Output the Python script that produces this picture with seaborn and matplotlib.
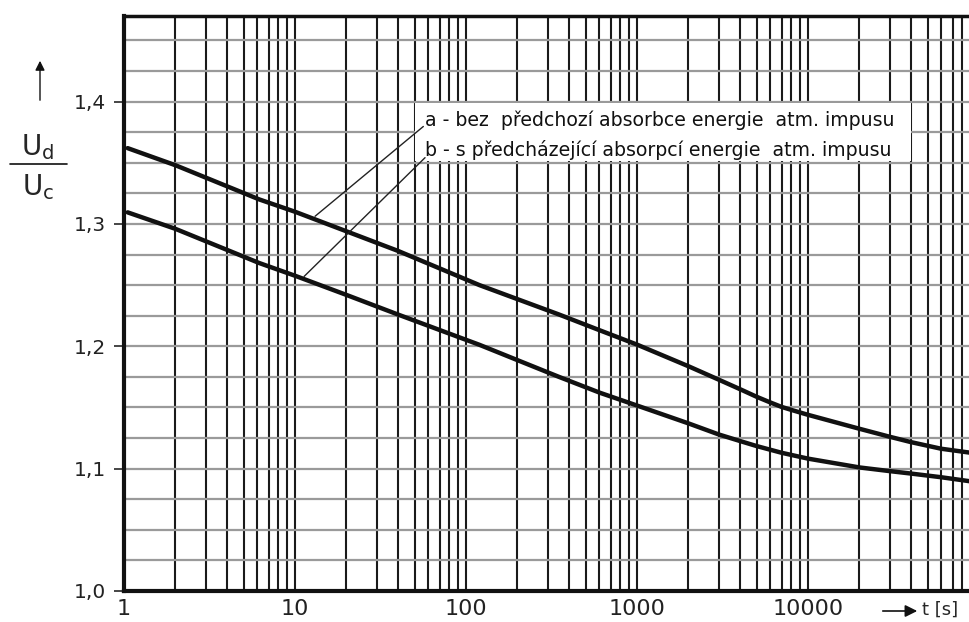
import numpy as np
import pandas as pd
import seaborn as sns
import matplotlib.pyplot as plt
import matplotlib.patches as patches
from matplotlib.ticker import LogLocator, MultipleLocator, FixedLocator, NullFormatter

# curve a - without previous absorption of energy
t_a = [1.05, 2, 6.2, 10, 20, 40, 120, 350, 608, 1000, 2000, 3000, 4000, 5000, 6000, 7000,
       8000, 10000, 20000, 30000, 40000, 60000, 95000]
ud_a = [1.362, 1.348, 1.320, 1.310, 1.294, 1.278, 1.250, 1.226, 1.213, 1.2014, 1.1837, 1.1728,
        1.1650, 1.1588, 1.1542, 1.1505, 1.1480, 1.1440, 1.1326, 1.1261, 1.1217, 1.1163, 1.1125]

# curve b - with preceding absorption of energy
t_b = [1.05, 2, 6.2, 10, 20, 40, 120, 350, 608, 1000, 2000, 3000, 4000, 5000, 7000,
       10000, 20000, 30000, 40000, 60000, 95000]
ud_b = [1.3095, 1.296, 1.268, 1.2577, 1.242, 1.226, 1.2012, 1.175, 1.162, 1.1516, 1.137, 1.128,
        1.1226, 1.1185, 1.1130, 1.1082, 1.1010, 1.0980, 1.0960, 1.0930, 1.0891]

x_ticks = [1, 10, 100, 1000, 10000]
x_labels = ['1', '10', '100', '1000', '10000']
y_ticks = [1.0, 1.1, 1.2, 1.3, 1.4]
y_labels = ['1,0', '1,1', '1,2', '1,3', '1,4']

label_a = 'a - bez  předchozí absorbce energie  atm. impusu'
label_b = 'b - s předcházející absorpcí energie  atm. impusu'

sns.set_style('white')
plt.rcParams['font.family'] = ['DejaVu Sans']
plt.rcParams['mathtext.fontset'] = 'custom'
plt.rcParams['mathtext.rm'] = 'DejaVu Sans'

fig = plt.figure(figsize=(9.7, 6.22), dpi=100)
ax = fig.add_axes([124/970, 31/622, 855/970, 575/622])

df_a = pd.DataFrame({'t': t_a, 'u': ud_a})
df_b = pd.DataFrame({'t': t_b, 'u': ud_b})
sns.lineplot(data=df_a, x='t', y='u', color='#111111', lw=3.2, ax=ax, zorder=5)
sns.lineplot(data=df_b, x='t', y='u', color='#111111', lw=3.2, ax=ax, zorder=5)

ax.set_xscale('log')
ax.set_xlim(1, 1e5)
ax.set_ylim(1.0, 1.47)

ax.xaxis.set_major_locator(FixedLocator(x_ticks))
ax.set_xticklabels(x_labels)
ax.xaxis.set_minor_locator(LogLocator(base=10, subs=range(2, 10), numticks=20))
ax.xaxis.set_minor_formatter(NullFormatter())
ax.set_yticks(y_ticks)
ax.set_yticklabels(y_labels)
ax.yaxis.set_minor_locator(MultipleLocator(0.025))

ax.grid(True, axis='x', which='both', color='#1a1a1a', lw=1.5)
ax.grid(True, axis='y', which='both', color='#9a9a9a', lw=1.6)
ax.set_axisbelow(True)

ax.tick_params(axis='x', which='both', length=0, pad=6, labelsize=16, labelcolor='#222222')
ax.tick_params(axis='y', which='major', length=7, width=1.2, pad=6, labelsize=14.5,
               direction='out', left=True, labelcolor='#222222')
ax.tick_params(axis='y', which='minor', length=0)

for s in ['left', 'bottom']:
    ax.spines[s].set_linewidth(3.0)
    ax.spines[s].set_color('#111111')
ax.spines['top'].set_linewidth(2.5)
ax.spines['top'].set_color('#111111')
ax.spines['right'].set_visible(False)
ax.set_xlabel('')
ax.set_ylabel('')

# legend box with texts and leader lines
ax.add_patch(patches.Rectangle((50, 1.3515), 40000 - 50, 0.047, facecolor='white',
                               edgecolor='none', zorder=3))
ax.text(57.6, 1.3800, label_a, fontsize=13.6, va='baseline', ha='left', zorder=6, color='#111111')
ax.text(57.6, 1.3556, label_b, fontsize=13.6, va='baseline', ha='left', zorder=6, color='#111111')
ax.plot([56.3, 13.1], [1.3797, 1.3063], color='#222222', lw=1.0, zorder=6)
ax.plot([57.6, 11.3], [1.3542, 1.2571], color='#222222', lw=1.0, zorder=6)

# y label as fraction with arrow
fig.text(38/970, 1 - 147/622, r'$\mathrm{U_d}$', fontsize=20, ha='center', va='center')
fig.text(38/970, 1 - 187/622, r'$\mathrm{U_c}$', fontsize=20, ha='center', va='center')
fig.add_artist(plt.Line2D([10/970, 67/970], [1 - 164/622, 1 - 164/622], color='#111111', lw=1.2))
fig.add_artist(patches.FancyArrowPatch((40/970, 1 - 103/622), (40/970, 1 - 58/622),
                                       transform=fig.transFigure, arrowstyle='-|>',
                                       mutation_scale=14, color='#111111', lw=1.0))

# x label with arrow
fig.add_artist(patches.FancyArrowPatch((880/970, 1 - 611/622), (920/970, 1 - 611/622),
                                       transform=fig.transFigure, arrowstyle='-|>',
                                       mutation_scale=18, color='#111111', lw=1.2))
fig.text(922/970, 1 - 610/622, 't [s]', fontsize=13, ha='left', va='center')

fig.savefig('out.png', dpi=100)
